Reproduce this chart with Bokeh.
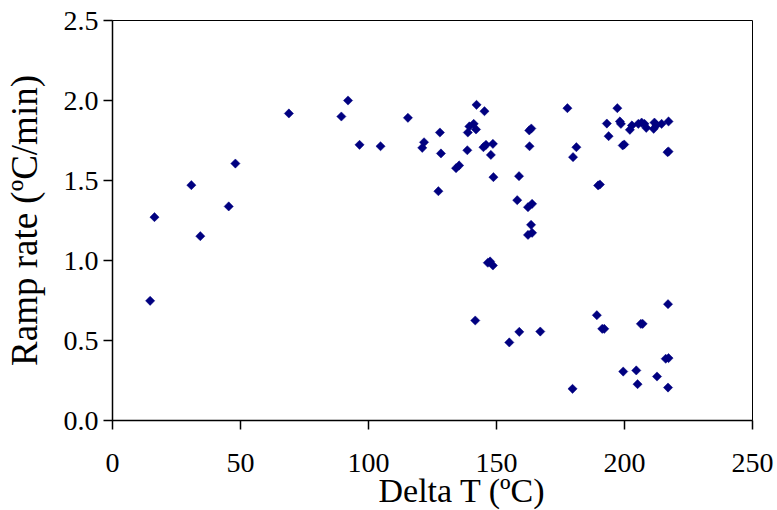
import math
from bokeh.plotting import figure
from bokeh.models import Range1d, FixedTicker, PrintfTickFormatter, Title
from bokeh.embed import file_html
from bokeh.resources import INLINE

# Temperature difference (deg C) for each run
delta_t = [
    14.7, 16.4, 30.8, 34.3, 45.4, 48.0, 68.9,
    89.4, 92.0, 96.5, 104.7, 115.4, 121.0, 121.7, 127.3, 127.9, 128.3,
    134.2, 135.4, 138.6, 138.8, 139.4, 141.1, 142.0, 142.2, 141.7,
    144.9, 145.3, 145.9, 146.6, 147.5, 147.8, 148.6, 148.6, 148.8,
    155.0, 158.1, 158.8, 158.9, 162.3, 162.3, 162.8, 162.9, 163.5, 163.6, 163.9, 163.9,
    167.1, 177.7, 179.7, 179.9, 181.2,
    189.2, 189.7, 190.4, 191.3, 192.1, 193.1, 193.8, 197.2, 198.2, 198.6,
    199.3, 199.5, 199.9, 202.1, 202.9, 204.6, 205.1, 205.4, 206.4, 206.7, 207.1, 207.8, 208.5,
    211.4, 211.7, 212.5, 212.7, 214.5, 216.1, 216.8, 217.0, 217.0, 217.2, 217.2, 217.2,
]

# Measured ramp rate (deg C per minute) for each run
ramp_rate = [
    0.748, 1.271, 1.471, 1.152, 1.338, 1.606, 1.919,
    1.900, 2.000, 1.723, 1.714, 1.892, 1.704, 1.739, 1.433, 1.800, 1.669,
    1.577, 1.594, 1.689, 1.800, 1.838, 1.854, 1.819, 1.973, 0.625,
    1.708, 1.933, 1.723, 0.986, 0.994, 1.660, 1.729, 0.969, 1.521,
    0.488, 1.377, 1.527, 0.554, 1.333, 1.160, 1.813, 1.714, 1.223, 1.825, 1.354, 1.173,
    0.556, 1.952, 0.198, 1.646, 1.708,
    0.658, 1.469, 1.475, 0.573, 0.573, 1.856, 1.777, 1.952, 1.869, 1.854,
    1.719, 0.306, 1.725, 1.817, 1.844, 0.313, 0.227, 1.854, 0.604, 1.862, 0.604, 1.854, 1.829,
    1.823, 1.862, 1.846, 0.275, 1.854, 0.386, 1.677, 0.727, 0.206, 1.869, 1.681, 0.390,
]

x_ticks = [0, 50, 100, 150, 200, 250]
y_ticks = [0.0, 0.5, 1.0, 1.5, 2.0, 2.5]
x_title = "Delta T (\u00baC)"
y_title = "Ramp rate (\u00baC/min)"

FONT = "Liberation Serif"

p = figure(
    width=777, height=510,
    output_backend="svg", toolbar_location=None,
    x_range=Range1d(0, 250), y_range=Range1d(0, 2.5),
    min_border_left=112, min_border_right=25,
    min_border_top=20, min_border_bottom=90,
    background_fill_color="white", border_fill_color="white",
)

p.scatter(delta_t, ramp_rate, marker="square", angle=math.pi / 4, size=6.5,
          fill_color="#000080", line_color="#000080", line_width=0.5)

p.grid.visible = False
p.outline_line_color = "black"
p.outline_line_width = 1

p.xaxis.ticker = FixedTicker(ticks=x_ticks)
p.yaxis.ticker = FixedTicker(ticks=y_ticks)
p.yaxis.formatter = PrintfTickFormatter(format="%.1f")
p.xaxis.formatter = PrintfTickFormatter(format="%d")

for ax in (p.xaxis, p.yaxis):
    ax.axis_line_color = "black"
    ax.axis_line_width = 1.5
    ax.major_tick_line_color = "black"
    ax.major_tick_line_width = 1.5
    ax.major_tick_in = 0
    ax.major_tick_out = 9
    ax.minor_tick_line_color = None
    ax.major_label_text_font = FONT
    ax.major_label_text_font_size = "28px"
    ax.major_label_text_color = "black"

p.xaxis.major_label_standoff = 24
p.yaxis.major_label_standoff = 5

# y title as the axis label
p.yaxis.axis_label = y_title
p.yaxis.axis_label_text_font = FONT
p.yaxis.axis_label_text_font_size = "37px"
p.yaxis.axis_label_text_font_style = "normal"
p.yaxis.axis_label_text_color = "black"
p.yaxis.axis_label_standoff = 16

# x title sits slightly right of the frame centre
p.add_layout(Title(text=x_title, align="left", offset=266, standoff=-10,
                   text_font=FONT, text_font_size="34px",
                   text_font_style="normal", text_color="black"), "below")

open("out.html", "w").write(file_html(p, INLINE))
